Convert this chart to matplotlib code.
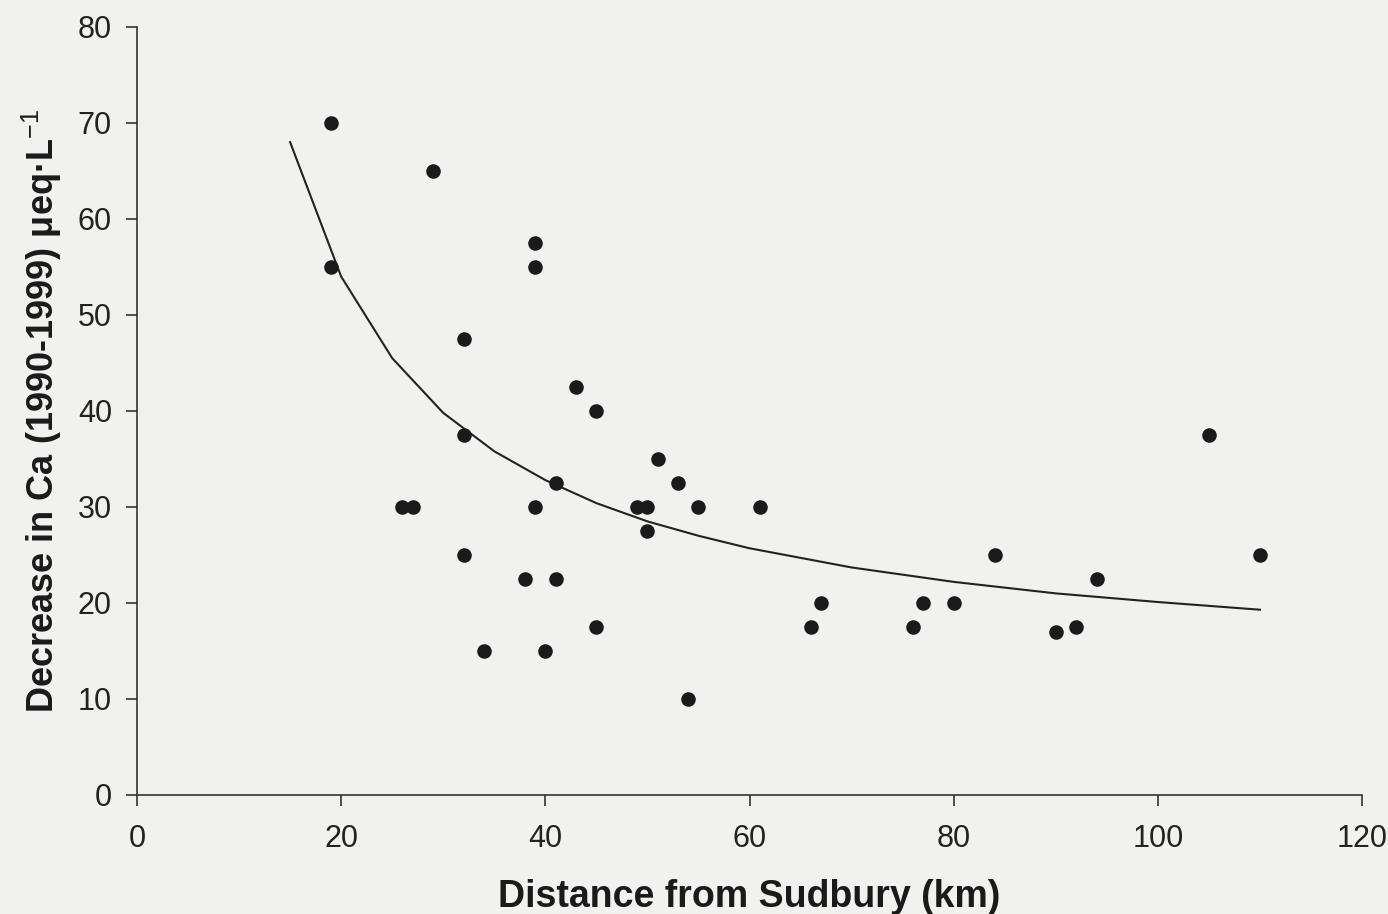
import matplotlib
matplotlib.use("Agg")
import matplotlib.pyplot as plt

plt.rcParams['font.family'] = ['Liberation Sans', 'DejaVu Sans']
plt.rcParams['mathtext.fontset'] = 'custom'
plt.rcParams['mathtext.rm'] = 'Liberation Sans'
plt.rcParams['mathtext.bf'] = 'Liberation Sans:bold'

# observed lakes: distance from Sudbury (km) and Ca decrease
distance = [19, 19, 29, 26, 27, 32, 32, 32, 34, 38, 39, 39, 39, 40, 41, 41,
            43, 45, 45, 49, 50, 50, 51, 53, 54, 55, 61, 66, 67, 76, 77, 80,
            84, 90, 92, 94, 105, 110]
ca_decrease = [70, 55, 65, 30, 30, 47.5, 37.5, 25, 15, 22.5, 57.5, 55, 30, 15, 32.5, 22.5,
               42.5, 40, 17.5, 30, 30, 27.5, 35, 32.5, 10, 30, 30, 17.5, 20, 17.5, 20, 20,
               25, 17, 17.5, 22.5, 37.5, 25]

# fitted curve
fit_x = [15, 20, 25, 30, 35, 40, 45, 50, 55, 60, 70, 80, 90, 100, 110]
fit_y = [68, 54, 45.5, 39.8, 35.8, 32.8, 30.4, 28.5, 27, 25.7, 23.7, 22.2, 21, 20.1, 19.3]

bg = '#f1f1ef'
fig = plt.figure(figsize=(13.88, 9.14), dpi=100, facecolor=bg)
ax = fig.add_axes([0.0987, 0.1302, 0.8826, 0.8403], facecolor=bg)

ax.plot(fit_x, fit_y, color='#222222', lw=1.5, zorder=2)
ax.scatter(distance, ca_decrease, s=110, color='#1a1a1a', zorder=3, linewidths=0)

ax.set_xlim(0, 120)
ax.set_ylim(0, 80)
ax.set_xticks(range(0, 121, 20))
ax.set_yticks(range(0, 81, 10))

for side in ['top', 'right']:
    ax.spines[side].set_visible(False)
for side in ['left', 'bottom']:
    ax.spines[side].set_color('#333333')
    ax.spines[side].set_linewidth(1.2)

ax.tick_params(axis='both', direction='out', length=8, width=1.2, color='#333333',
               labelsize=22, labelcolor='#222222')
ax.tick_params(axis='x', pad=13)
ax.tick_params(axis='y', pad=10)

ax.set_xlabel('Distance from Sudbury (km)', fontsize=27, fontweight='bold', color='#1a1a1a', labelpad=18)
ax.set_ylabel(r'Decrease in Ca (1990-1999) μeq·L$^{\mathrm{-1}}$', fontsize=26, fontweight='bold',
              color='#1a1a1a', labelpad=10)

fig.savefig('out.png', dpi=100, facecolor=bg)
